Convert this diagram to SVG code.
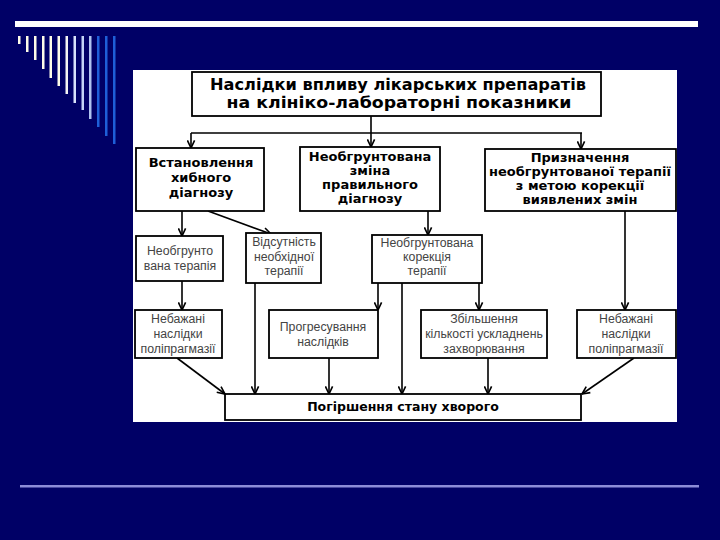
<svg xmlns="http://www.w3.org/2000/svg" width="720" height="540" viewBox="0 0 720 540">
<defs>
<marker id="ah" viewBox="0 0 10 10" refX="9.5" refY="5" markerWidth="9" markerHeight="9" markerUnits="userSpaceOnUse" orient="auto">
<path d="M1,1 L9.5,5 L1,9" fill="none" stroke="#000" stroke-width="1.8"/>
</marker>
<style>
.box{fill:#fff;stroke:#000;stroke-width:1.8}
.hb{font-family:"DejaVu Sans","Noto Sans",sans-serif;font-weight:bold;fill:#000;text-anchor:middle}
.tl{font-family:"Liberation Sans","Noto Sans",sans-serif;font-size:12.3px;fill:#444;text-anchor:middle}
.cn{fill:none;stroke:#000;stroke-width:1.6}
.ca{fill:none;stroke:#000;stroke-width:1.6;marker-end:url(#ah)}
</style>
</defs>
<rect width="720" height="540" fill="#000066"/>
<g id="decor">
<rect x="15" y="21" width="683" height="6" fill="#ffffff"/>
<rect x="20" y="485" width="679" height="2.5" fill="#8c8cd8"/>
<rect x="18" y="36" width="2.5" height="8" fill="#fdfbe8"/>
<rect x="26" y="36" width="2.5" height="16" fill="#fdfbe8"/>
<rect x="34" y="36" width="2.5" height="24" fill="#fdfbe8"/>
<rect x="42" y="36" width="2.5" height="33" fill="#fdfbe8"/>
<rect x="49.5" y="36" width="2.5" height="42" fill="#fdfbe8"/>
<rect x="57.5" y="36" width="2.5" height="50" fill="#fdfbe8"/>
<rect x="65.5" y="36" width="2.5" height="58" fill="#f4f4f4"/>
<rect x="73.5" y="36" width="2.5" height="67" fill="#d8e2fa"/>
<rect x="81.5" y="36" width="2.5" height="74" fill="#c4d4f6"/>
<rect x="89" y="36" width="2.5" height="83" fill="#b0c4f0"/>
<rect x="97" y="36" width="2.5" height="91" fill="#1e5fd8"/>
<rect x="105" y="36" width="2.5" height="100" fill="#1e5fd8"/>
<rect x="113" y="36" width="2.5" height="108" fill="#1e5fd8"/>
</g>
<rect x="133" y="70" width="544" height="352" fill="#ffffff"/>
<g id="connectors">
<path class="cn" d="M371,116 V133 M191,133 H582"/>
<path class="ca" d="M191,133 V148"/>
<path class="ca" d="M371,133 V147"/>
<path class="ca" d="M581,133 V149"/>
<path class="ca" d="M182,211 V236"/>
<path class="ca" d="M208,211 L271,234"/>
<path class="ca" d="M428,211 V235"/>
<path class="ca" d="M625,211 V310"/>
<path class="ca" d="M182,281 V310"/>
<path class="ca" d="M255,283 V394"/>
<path class="ca" d="M378,283 V310"/>
<path class="ca" d="M402,283 V394"/>
<path class="ca" d="M479,283 V310"/>
<path class="ca" d="M177,358 L225,394"/>
<path class="ca" d="M329,358 V394"/>
<path class="ca" d="M488,358 V394"/>
<path class="ca" d="M634,358 L582,394"/>
</g>
<g id="n-title">
<rect class="box" x="192" y="72" width="409" height="44"/>
<text class="hb" x="398" y="90" font-size="15.5" textLength="376" lengthAdjust="spacingAndGlyphs">Наслідки впливу лікарських препаратів</text>
<text class="hb" x="399" y="108" font-size="15.5" textLength="345" lengthAdjust="spacingAndGlyphs">на клініко-лабораторні показники</text>
</g>
<g id="n-a">
<rect class="box" x="136" y="148" width="128" height="63"/>
<text class="hb" x="201" y="167" font-size="13">Встановлення</text>
<text class="hb" x="201" y="182" font-size="13">хибного</text>
<text class="hb" x="201" y="197" font-size="13">діагнозу</text>
</g>
<g id="n-b">
<rect class="box" x="300" y="147" width="140" height="64"/>
<text class="hb" x="370" y="161" font-size="13">Необгрунтована</text>
<text class="hb" x="370" y="175" font-size="13">зміна</text>
<text class="hb" x="370" y="189" font-size="13">правильного</text>
<text class="hb" x="370" y="203" font-size="13">діагнозу</text>
</g>
<g id="n-c">
<rect class="box" x="485" y="149" width="191" height="62"/>
<text class="hb" x="580" y="162" font-size="13">Призначення</text>
<text class="hb" x="580" y="176" font-size="13">необгрунтованої терапії</text>
<text class="hb" x="580" y="190" font-size="13">з метою корекції</text>
<text class="hb" x="580" y="204" font-size="13">виявлених змін</text>
</g>
<g id="n-d">
<rect class="box" x="136" y="236" width="87" height="45"/>
<text class="tl" x="180" y="255">Необгрунто</text>
<text class="tl" x="180" y="270">вана терапія</text>
</g>
<g id="n-e">
<rect class="box" x="246" y="233" width="75" height="50"/>
<text class="tl" x="284" y="246">Відсутність</text>
<text class="tl" x="284" y="261">необхідної</text>
<text class="tl" x="284" y="275">терапії</text>
</g>
<g id="n-f">
<rect class="box" x="372" y="235" width="110" height="48"/>
<text class="tl" x="427" y="247">Необгрунтована</text>
<text class="tl" x="427" y="261">корекція</text>
<text class="tl" x="427" y="275">терапії</text>
</g>
<g id="n-g">
<rect class="box" x="135" y="310" width="87" height="48"/>
<text class="tl" x="178" y="323">Небажані</text>
<text class="tl" x="178" y="338">наслідки</text>
<text class="tl" x="178" y="353">поліпрагмазії</text>
</g>
<g id="n-h">
<rect class="box" x="269" y="310" width="109" height="48"/>
<text class="tl" x="323" y="331">Прогресування</text>
<text class="tl" x="323" y="346">наслідків</text>
</g>
<g id="n-i">
<rect class="box" x="421" y="310" width="126" height="48"/>
<text class="tl" x="484" y="323">Збільшення</text>
<text class="tl" x="484" y="338">кількості ускладнень</text>
<text class="tl" x="484" y="353">захворювання</text>
</g>
<g id="n-j">
<rect class="box" x="577" y="310" width="99" height="48"/>
<text class="tl" x="626" y="323">Небажані</text>
<text class="tl" x="626" y="338">наслідки</text>
<text class="tl" x="626" y="353">поліпрагмазії</text>
</g>
<g id="n-k">
<rect class="box" x="225" y="394" width="356" height="26"/>
<text class="hb" x="403" y="411" font-size="12.5">Погіршення стану хворого</text>
</g>
</svg>
